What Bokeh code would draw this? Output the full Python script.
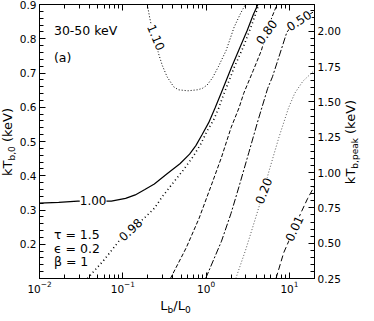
from bokeh.plotting import figure
from bokeh.layouts import row, column
from bokeh.models import (Range1d, LinearAxis, LogAxis, FixedTicker, LogTicker,
                          Label, NumeralTickFormatter, CustomJSTickFormatter, Div)
from bokeh.embed import file_html
from bokeh.resources import INLINE

# ---------------- data ----------------
c110_x = [0.197, 0.210, 0.239, 0.273, 0.298, 0.340, 0.407, 0.464, 0.605, 0.788, 0.900, 1.03, 1.20, 1.40, 1.74, 2.17, 2.59, 2.96]
c110_y = [0.900, 0.862, 0.799, 0.751, 0.722, 0.689, 0.660, 0.651, 0.648, 0.651, 0.655, 0.665, 0.687, 0.718, 0.766, 0.834, 0.874, 0.900]

c100_x = [0.010, 0.0170, 0.0288, 0.0490, 0.0728, 0.108, 0.141, 0.184, 0.239, 0.340, 0.485, 0.633, 0.753, 0.900, 1.074, 1.28, 1.53, 1.99, 2.59, 3.12, 3.69, 4.18]
c100_y = [0.320, 0.322, 0.326, 0.326, 0.326, 0.334, 0.344, 0.360, 0.376, 0.406, 0.435, 0.463, 0.488, 0.521, 0.555, 0.598, 0.644, 0.713, 0.779, 0.825, 0.871, 0.900]

c098_x = [0.0376, 0.0585, 0.0899, 0.184, 0.239, 0.298, 0.389, 0.530, 0.690, 0.860, 1.03, 1.23, 1.42, 1.63, 2.17, 2.83, 3.53, 4.29]
c098_y = [0.100, 0.152, 0.209, 0.278, 0.305, 0.339, 0.375, 0.416, 0.454, 0.492, 0.531, 0.563, 0.598, 0.638, 0.716, 0.779, 0.840, 0.900]

c080_x = [0.373, 0.578, 0.824, 1.17, 1.53, 1.99, 2.48, 2.83, 3.69, 4.61, 5.30, 6.21, 7.10]
c080_y = [0.100, 0.190, 0.276, 0.376, 0.454, 0.540, 0.598, 0.641, 0.708, 0.766, 0.819, 0.865, 0.900]

c050_x = [0.987, 1.53, 1.99, 2.48, 3.26, 4.18, 5.48, 6.26, 7.48, 9.31, 11.1, 15.7, 20.0]
c050_y = [0.100, 0.209, 0.290, 0.368, 0.468, 0.560, 0.655, 0.689, 0.747, 0.819, 0.842, 0.865, 0.880]

c020_x = [2.27, 2.96, 3.66, 4.40, 5.74, 7.48, 9.75, 11.6, 14.5, 20.0]
c020_y = [0.100, 0.181, 0.253, 0.316, 0.417, 0.512, 0.598, 0.641, 0.676, 0.708]

c001_x = [6.90, 8.53, 9.82, 11.4, 14.0, 16.5, 20.0]
c001_y = [0.100, 0.175, 0.209, 0.247, 0.296, 0.333, 0.370]

# contour label texts and positions (x, y, angle in radians)
clabel_text = ["1.10", "1.00", "0.98", "0.80", "0.50", "0.20", "0.01"]
clabel_x = [0.2506, 0.0440, 0.1236, 5.30, 13.0, 4.89, 11.4]
clabel_y = [0.804, 0.329, 0.243, 0.820, 0.853, 0.356, 0.246]
clabel_angle = [-1.17, 0.0, 0.75, 0.95, 0.59, 1.20, 1.14]

left_ticks = [0.2, 0.3, 0.4, 0.5, 0.6, 0.7, 0.8, 0.9]
left_minor = [0.12, 0.14, 0.16, 0.18, 0.22, 0.24, 0.26, 0.28, 0.32, 0.34, 0.36, 0.38,
              0.42, 0.44, 0.46, 0.48, 0.52, 0.54, 0.56, 0.58, 0.62, 0.64, 0.66, 0.68,
              0.72, 0.74, 0.76, 0.78, 0.82, 0.84, 0.86, 0.88]
right_ticks = [0.25, 0.50, 0.75, 1.00, 1.25, 1.50, 1.75, 2.00]
right_minor = [0.30, 0.35, 0.40, 0.45, 0.55, 0.60, 0.65, 0.70, 0.80, 0.85, 0.90, 0.95,
               1.05, 1.10, 1.15, 1.20, 1.30, 1.35, 1.40, 1.45, 1.55, 1.60, 1.65, 1.70,
               1.80, 1.85, 1.90, 1.95, 2.05, 2.10, 2.15]

ann_text = ["30-50 keV", "(a)", "τ = 1.5", "ϵ = 0.2", "β = 1"]
ann_y = [0.823, 0.746, 0.2295, 0.189, 0.149]

FONT = "DejaVu Sans"
LEFT_W, RIGHT_W, BOTTOM_H = 16, 14, 10
P_W, P_H = 328, 295
MB_L, MB_R, MB_T, MB_B = 21, 30, 4, 15
FW = P_W - MB_L - MB_R
FH = P_H - MB_T - MB_B

p = figure(width=P_W, height=P_H, x_axis_type="log",
           x_range=Range1d(0.01, 20), y_range=Range1d(0.1, 0.9),
           output_backend="svg", toolbar_location=None,
           min_border_left=MB_L, min_border_right=MB_R,
           min_border_top=MB_T, min_border_bottom=MB_B)
p.extra_y_ranges = {"peak": Range1d(0.25, 2.19)}
p.xgrid.grid_line_color = None
p.ygrid.grid_line_color = None
p.outline_line_color = "black"
p.background_fill_color = "white"
p.border_fill_color = "white"


def style(ax, label_size="10.5px"):
    ax.major_tick_in = 6
    ax.major_tick_out = 0
    ax.minor_tick_in = 4
    ax.minor_tick_out = 0
    ax.axis_line_color = "black"
    ax.major_tick_line_color = "black"
    ax.minor_tick_line_color = "black"
    ax.major_label_text_font = FONT
    ax.major_label_text_font_size = label_size
    ax.major_label_text_color = "black"
    ax.axis_label = None


logticker = LogTicker(num_minor_ticks=10)
bottom = p.xaxis[0]
bottom.ticker = logticker
style(bottom)
bottom.major_label_standoff = 2

left = p.yaxis[0]
left.ticker = FixedTicker(ticks=left_ticks, minor_ticks=left_minor)
left.formatter = NumeralTickFormatter(format="0.0")
style(left)
left.major_label_standoff = 3

top = LogAxis(ticker=logticker, formatter=CustomJSTickFormatter(code="return ' '"))
style(top, "1px")
top.major_label_text_color = None
top.major_label_standoff = 0
p.add_layout(top, "above")

right = LinearAxis(y_range_name="peak",
                   ticker=FixedTicker(ticks=right_ticks, minor_ticks=right_minor),
                   formatter=NumeralTickFormatter(format="0.00"))
style(right)
right.major_label_standoff = 3
p.add_layout(right, "right")

# ---------------- contour lines ----------------
p.line(c110_x, c110_y, line_color="black", line_width=1, line_dash="1 2")
p.line(c100_x, c100_y, line_color="black", line_width=1.2)
p.line(c098_x, c098_y, line_color="black", line_width=1.6, line_dash="1 3")
p.line(c080_x, c080_y, line_color="black", line_width=1, line_dash="4 2")
p.line(c050_x, c050_y, line_color="black", line_width=1, line_dash="7 2 2 2")
p.line(c020_x, c020_y, line_color="#444444", line_width=0.9, line_dash="1 2")
p.line(c001_x, c001_y, line_color="black", line_width=1, line_dash="6 3")

for t, x, y, a in zip(clabel_text, clabel_x, clabel_y, clabel_angle):
    p.add_layout(Label(x=x, y=y, text=t, angle=a, text_align="center",
                       text_baseline="middle", text_font=FONT,
                       text_font_size="12px", text_color="black",
                       background_fill_color="white"))

# ---------------- annotations inside the frame ----------------
for t, y in zip(ann_text, ann_y):
    p.add_layout(Label(x=0.0149, y=y, text=t, text_align="left",
                       text_baseline="alphabetic", text_font=FONT,
                       text_font_size="12.5px", text_color="black"))

# ---------------- axis labels (HTML, with real subscripts) ----------------
TXT = ("font-family:'DejaVu Sans';font-size:13px;color:black;"
       "white-space:nowrap;line-height:13px;")
SUB = "font-size:9px;position:relative;top:3px;"
frame_cy = MB_T + FH / 2.0          # vertical centre of frame (px from top)
frame_cx = MB_L + FW / 2.0          # horizontal centre of frame (px from left of figure)


def vlabel(main, sub, w, cx):
    return (f'<div style="position:relative;width:{w}px;height:{P_H + BOTTOM_H}px;">'
            f'<div style="position:absolute;left:{cx}px;top:{frame_cy}px;'
            f'transform:translate(-50%,-50%) rotate(-90deg);{TXT}">'
            f'{main}<span style="{SUB}">{sub}</span> (keV)</div></div>')


left_div = Div(text=vlabel("kT", "b,0", LEFT_W, 8), width=LEFT_W,
               height=P_H + BOTTOM_H, margin=0)
right_div = Div(text=vlabel("kT", "b,peak", RIGHT_W, 7), width=RIGHT_W,
                height=P_H + BOTTOM_H, margin=0)
bottom_html = (f'<div style="position:relative;width:{P_W}px;height:{BOTTOM_H}px;">'
               f'<div style="position:absolute;left:{frame_cx}px;top:2px;'
               f'transform:translateX(-50%);{TXT}">'
               f'L<span style="{SUB}">b</span>/L<span style="{SUB}">0</span></div></div>')
bottom_div = Div(text=bottom_html, width=P_W, height=BOTTOM_H, margin=0)

layout = row(left_div, column(p, bottom_div, spacing=0), right_div, spacing=0)

open("out.html", "w").write(file_html(layout, INLINE))
